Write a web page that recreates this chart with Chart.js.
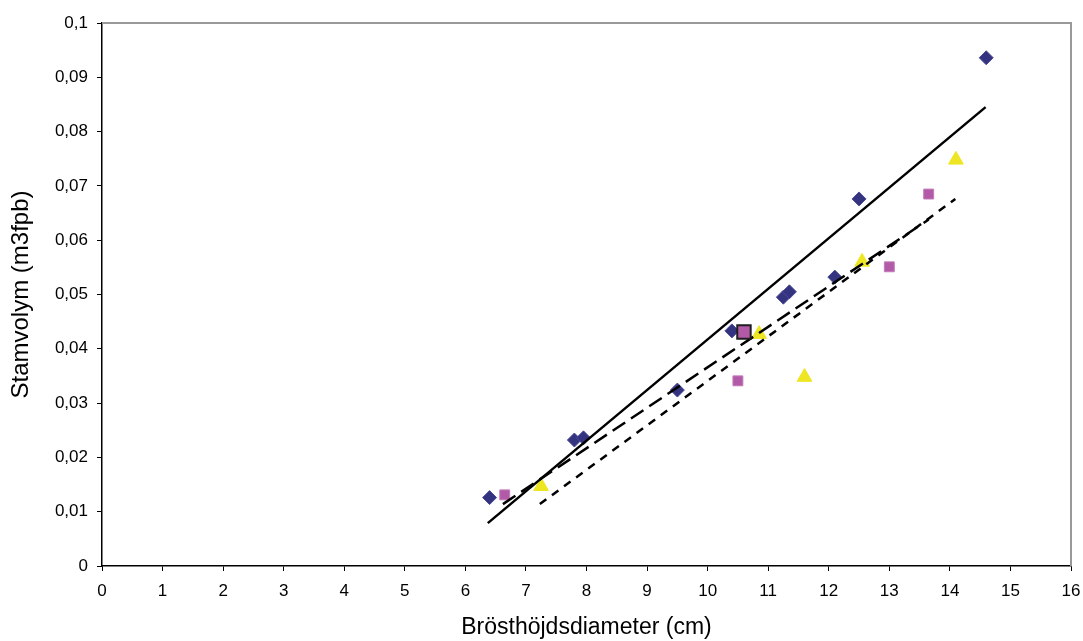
<!DOCTYPE html>
<html>
<head>
<meta charset="utf-8">
<script src="https://cdn.jsdelivr.net/npm/chart.js@4/dist/chart.umd.min.js"></script>
<style>
    html, body { margin: 0; padding: 0; background: #fff; }
    #wrap { width: 1083px; height: 641px; }
</style>
</head>
<body>
<div id="wrap"><canvas id="myChart"></canvas></div>
<script>
// Start Data
var diamondX = [6.4, 7.8, 7.95, 9.5, 10.4, 11.25, 11.35, 12.1, 12.5, 14.6];
var diamondY = [0.0126, 0.0232, 0.0236, 0.0324, 0.0433, 0.0495, 0.0505, 0.0532, 0.0676, 0.0936];

var squareX = [6.65, 10.5, 13.0, 13.65];
var squareY = [0.0131, 0.0341, 0.0551, 0.0685];

var bigSquareX = [10.6];
var bigSquareY = [0.0431];

var triangleX = [7.25, 10.85, 11.6, 12.55, 14.1];
var triangleY = [0.0147, 0.0427, 0.0348, 0.0560, 0.0748];

// trend lines, start and end points
var solidX = [6.37, 14.59];
var solidY = [0.0079, 0.0845];
var longDashX = [6.62, 13.65];
var longDashY = [0.0114, 0.0638];
var shortDashX = [7.23, 14.09];
var shortDashY = [0.0114, 0.0676];

var xTicks = [0, 1, 2, 3, 4, 5, 6, 7, 8, 9, 10, 11, 12, 13, 14, 15, 16];
var yTicks = [0, 0.01, 0.02, 0.03, 0.04, 0.05, 0.06, 0.07, 0.08, 0.09, 0.1];
// !!End Data

function pts(xs, ys) {
    return xs.map(function (x, i) { return { x: x, y: ys[i] }; });
}

// gray frame on top and right of the plot area
const framePlugin = {
    id: 'frame',
    afterDraw: function (chart) {
        const a = chart.chartArea;
        const c = chart.ctx;
        c.save();
        c.strokeStyle = '#999';
        c.lineWidth = 2;
        c.beginPath();
        c.moveTo(a.left, a.top);
        c.lineTo(a.right, a.top);
        c.lineTo(a.right, a.bottom);
        c.stroke();
        c.restore();
    }
};

function trend(xs, ys, dash) {
    return {
        type: 'line',
        data: pts(xs, ys),
        showLine: true,
        borderColor: '#000',
        borderWidth: 2.5,
        borderDash: dash,
        pointRadius: 0,
        fill: false,
        order: 1
    };
}

Chart.defaults.font.family = "'Liberation Sans', Arial, sans-serif";
Chart.defaults.color = '#000';

const ctx = document.getElementById('myChart').getContext('2d');
new Chart(ctx, {
    type: 'scatter',
    data: {
        datasets: [
            trend(solidX, solidY, []),
            trend(longDashX, longDashY, [15, 7]),
            trend(shortDashX, shortDashY, [8, 7]),
            {
                data: pts(diamondX, diamondY),
                pointStyle: 'rectRot',
                pointRadius: 7,
                backgroundColor: '#333380',
                borderColor: '#4a4a96',
                borderWidth: 1,
                order: 2
            },
            {
                data: pts(squareX, squareY),
                pointStyle: 'rect',
                pointRadius: 7,
                backgroundColor: '#b25aa8',
                borderColor: '#c27ab9',
                borderWidth: 1,
                order: 2
            },
            {
                data: pts(triangleX, triangleY),
                pointStyle: 'triangle',
                pointRadius: 8.5,
                backgroundColor: '#eee622',
                borderColor: '#eee622',
                borderWidth: 1,
                order: 2
            },
            {
                data: pts(bigSquareX, bigSquareY),
                pointStyle: 'rect',
                pointRadius: 9.5,
                backgroundColor: '#b25aa8',
                borderColor: '#1e1e1e',
                borderWidth: 2,
                order: 0
            }
        ]
    },
    options: {
        responsive: true,
        maintainAspectRatio: false,
        animation: false,
        layout: { padding: { top: 23, right: 12, left: 0, bottom: 0 } },
        scales: {
            x: {
                type: 'linear',
                min: 0,
                max: 16,
                afterBuildTicks: function (scale) {
                    scale.ticks = xTicks.map(function (v) { return { value: v }; });
                },
                afterFit: function (scale) {
                    scale.height = 75;
                    scale.paddingLeft = 0;
                    scale.paddingRight = 0;
                },
                grid: {
                    display: true,
                    drawOnChartArea: false,
                    drawTicks: true,
                    tickLength: 5,
                    color: '#000'
                },
                border: { color: '#000', width: 1.5 },
                ticks: {
                    font: { size: 17 },
                    padding: 10,
                    maxRotation: 0
                },
                title: {
                    display: true,
                    text: 'Brösthöjdsdiameter (cm)',
                    font: { size: 23 },
                    padding: { top: 0, bottom: 0 }
                }
            },
            y: {
                type: 'linear',
                min: 0,
                max: 0.1,
                afterBuildTicks: function (scale) {
                    scale.ticks = yTicks.map(function (v) { return { value: v }; });
                },
                afterFit: function (scale) {
                    scale.width = 102;
                    scale.paddingTop = 0;
                    scale.paddingBottom = 0;
                },
                grid: {
                    display: true,
                    drawOnChartArea: false,
                    drawTicks: true,
                    tickLength: 5,
                    color: '#000'
                },
                border: { color: '#000', width: 1.5 },
                ticks: {
                    font: { size: 17 },
                    padding: 9,
                    callback: function (v) {
                        return String(Math.round(v * 100) / 100).replace('.', ',');
                    }
                },
                title: {
                    display: true,
                    text: 'Stamvolym (m3fpb)',
                    font: { size: 24 },
                    padding: { top: 7, bottom: 0 }
                }
            }
        },
        plugins: {
            legend: { display: false },
            tooltip: { enabled: false }
        }
    },
    plugins: [framePlugin]
});
</script>
</body>
</html>
